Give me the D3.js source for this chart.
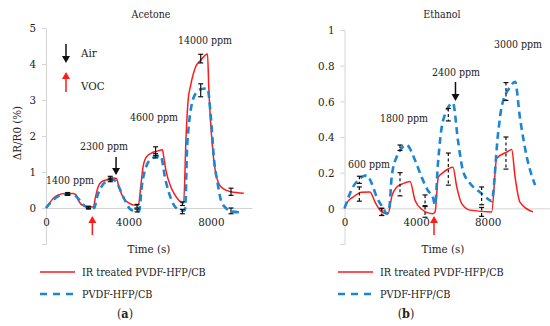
<!DOCTYPE html>
<html><head><meta charset="utf-8">
<script src="https://cdn.jsdelivr.net/npm/d3@7"></script>
<style>
body{margin:0;background:#fff;}
svg text{fill:#222;}
</style></head>
<body><svg id="c" width="550" height="326"></svg>
<script>
// ---------- DATA ----------
const seriesNames = ["IR treated PVDF-HFP/CB", "PVDF-HFP/CB"];
const panelTitles = ["Acetone", "Ethanol"];
const panelLabels = ["a", "b"];
const xTicks = [0, 4000, 8000];
const yTicksA = [-1, 0, 1, 2, 3, 4, 5];
const yTicksB = [-0.2, 0, 0.2, 0.4, 0.6, 0.8, 1];

// Acetone curves [time s, ΔR/R0 %]
const acetoneIR = [[0,0],[150,0.12],[360,0.27],[600,0.36],[900,0.4],[1300,0.4],[1450,0.37],[1580,0.2],[1820,0.06],[2060,0.03],[2300,0.03],
 [2400,0.3],[2550,0.62],[2700,0.73],[3000,0.79],[3300,0.83],[3420,0.82],[3530,0.6],[3770,0.27],[4010,0.14],[4260,0.08],[4480,0.07],
 [4600,0.6],[4700,1.1],[4850,1.4],[5100,1.52],[5400,1.58],[5650,1.62],[5720,1.4],[5820,1.05],[6050,0.6],[6200,0.42],[6540,0.17],[6680,0.13],
 [6800,2.0],[6900,3.0],[7020,3.4],[7270,3.93],[7500,4.1],[7840,4.28],[7900,3.37],[8080,1.7],[8240,0.97],[8490,0.59],[8980,0.45],[9600,0.41]];
const acetonePlain = [[0,0],[400,0.25],[900,0.38],[1300,0.38],[1600,0.24],[1900,0.05],[2100,0.0],[2350,0.0],
 [2450,0.25],[2700,0.6],[3000,0.75],[3300,0.78],[3450,0.68],[3800,0.25],[4100,-0.04],[4400,-0.1],[4520,-0.08],
 [4650,0.6],[4900,1.2],[5200,1.4],[5560,1.45],[5800,0.78],[5970,0.42],[6210,0.08],[6450,-0.05],[6650,-0.08],[6750,-0.04],
 [6860,1.8],[7190,3.1],[7510,3.3],[7840,3.32],[8000,2.54],[8160,1.33],[8330,0.69],[8490,0.22],[8730,0.0],[9060,-0.1],[9460,-0.12]];
// Ethanol curves
const ethanolIR = [[0,0],[200,0.04],[475,0.063],[960,0.09],[1425,0.092],[1700,0.036],[1980,-0.01],[2360,-0.03],
 [2430,-0.03],[2650,0.07],[2920,0.12],[3300,0.14],[3660,0.15],[3940,0.045],[4310,-0.005],[4940,-0.03],
 [5060,-0.02],[5240,0.175],[5500,0.2],[6060,0.23],[6270,0.12],[6550,0.026],[7010,-0.01],[8220,-0.02],
 [8500,0.28],[9060,0.315],[9340,0.33],[9530,0.175],[9800,0.035],[10530,-0.02]];
const ethanolPlain = [[0,0],[475,0.12],[750,0.157],[1240,0.185],[1520,0.14],[1800,0.063],[2170,0.0],[2360,-0.03],[2500,0.0],
 [2640,0.18],[2920,0.29],[3470,0.355],[3940,0.27],[4310,0.175],[4660,0.1],[4940,0.06],[5060,0.02],
 [5220,0.25],[5500,0.49],[6060,0.59],[6340,0.38],[6620,0.21],[7010,0.14],[7570,0.09],[8130,0.045],[8220,0.04],
 [8580,0.42],[8780,0.57],[9250,0.68],[9530,0.71],[9800,0.51],[10180,0.29],[10650,0.13]];

// Error bars: times, means, half-widths
const acetoneErrT = [1050, 2060, 3120, 4420, 5320, 6620, 7510, 8980];
const acetoneIRMean = [0.4, 0.02, 0.83, 0.05, 1.58, 0.12, 4.15, 0.45];
const acetoneIRErr  = [0.03, 0.03, 0.05, 0.05, 0.12, 0.05, 0.12, 0.1];
const acetonePlainMean = [0.38, 0.0, 0.78, -0.07, 1.45, -0.1, 3.27, -0.08];
const acetonePlainErr  = [0.03, 0.03, 0.05, 0.04, 0.06, 0.06, 0.18, 0.08];
const ethanolErrT = [830, 2080, 3100, 4500, 5800, 7660, 9020];
const ethanolIRMean = [0.08, -0.02, 0.135, -0.02, 0.22, -0.02, 0.31];
const ethanolIRErr  = [0.04, 0.02, 0.065, 0.03, 0.09, 0.025, 0.09];
const ethanolPlainMean = [0.16, -0.02, 0.34, 0.045, 0.525, 0.07, 0.655];
const ethanolPlainErr  = [0.02, 0.02, 0.015, 0.03, 0.035, 0.05, 0.05];

// Concentration annotations
const acetoneConc = ["1400 ppm", "2300 ppm", "4600 ppm", "14000 ppm"];
const ethanolConc = ["600 ppm", "1800 ppm", "2400 ppm", "3000 ppm"];

// ---------- DRAW ----------
const FONT = "'DejaVu Serif Condensed', 'DejaVu Serif', serif";
const svg = d3.select("#c");
const RED = "#ff1a1a", BLUE = "#1b86d6", AX = "#d4d4d4";
const FS = 10.8;

const panels = [
 {x0:46, x1:252, xmax:10000, ytop:28, ybot:244, ydom:[-1,5], yt:yTicksA, yfmt:d=>String(d),
  ir:acetoneIR, plain:acetonePlain, eT:acetoneErrT, irM:acetoneIRMean, irE:acetoneIRErr, plM:acetonePlainMean, plE:acetonePlainErr, dashErr:false},
 {x0:344.5, x1:559.3, xmax:12000, ytop:30, ybot:244, ydom:[-0.2,1], yt:yTicksB, yfmt:d=>String(+d.toFixed(1)),
  ir:ethanolIR, plain:ethanolPlain, eT:ethanolErrT, irM:ethanolIRMean, irE:ethanolIRErr, plM:ethanolPlainMean, plE:ethanolPlainErr, dashErr:true}
];

function T(sel){ return sel.style("font-family",FONT).style("font-stretch","condensed"); }

panels.forEach((p,i)=>{
  const x = d3.scaleLinear().domain([0,p.xmax]).range([p.x0,p.x1]);
  const y = d3.scaleLinear().domain(p.ydom).range([p.ybot,p.ytop]);
  p.x=x; p.y=y;
  const g = svg.append("g");
  const ya = g.append("g").attr("transform",`translate(${p.x0},0)`)
    .call(d3.axisLeft(y).tickValues(p.yt).tickSize(4).tickPadding(6).tickFormat(d=> (d<0)?"":p.yfmt(d)));
  ya.select(".domain").attr("stroke",AX);
  ya.selectAll(".tick line").attr("stroke",AX);
  T(ya.selectAll("text")).style("font-size","11.5px").attr("fill","#222");
  const xa = g.append("g").attr("transform",`translate(0,${y(0)})`)
    .call(d3.axisBottom(x).tickValues(xTicks).tickSize(0).tickPadding(10).tickFormat(d3.format("d")));
  xa.select(".domain").attr("stroke",AX);
  T(xa.selectAll("text")).style("font-size","11.5px").attr("fill","#222");
  T(g.append("text")).attr("x",(p.x0+p.x1)/2 + (i===0?2:-10)).attr("y",18).attr("text-anchor","middle").style("font-size","10.5px").text(panelTitles[i]);
  T(g.append("text")).attr("x",(p.x0+ (i===0?p.x1:x(11000)))/2).attr("y",253).attr("text-anchor","middle").style("font-size","11.5px").text("Time (s)");

  const line = d3.line().x(d=>x(d[0])).y(d=>y(d[1])).curve(d3.curveMonotoneX);
  g.append("path").datum(p.ir).attr("d",line).attr("fill","none").attr("stroke",RED).attr("stroke-width",1.5);
  g.append("path").datum(p.plain).attr("d",line).attr("fill","none").attr("stroke",BLUE).attr("stroke-width",2.6).attr("stroke-dasharray","7,4.5");

  const eb = (Tm,M,E,dash)=>{
    Tm.forEach((t,k)=>{
      const cx = x(t), ya1 = y(M[k]+E[k]), ya2 = y(M[k]-E[k]);
      const eg = g.append("g").attr("stroke","#111").attr("stroke-width",1.2);
      eg.append("line").attr("x1",cx).attr("x2",cx).attr("y1",ya1).attr("y2",ya2).attr("stroke-dasharray",dash?"3,2.5":null);
      eg.append("line").attr("x1",cx-2.5).attr("x2",cx+2.5).attr("y1",ya1).attr("y2",ya1);
      eg.append("line").attr("x1",cx-2.5).attr("x2",cx+2.5).attr("y1",ya2).attr("y2",ya2);
    });
  };
  eb(p.eT,p.irM,p.irE,p.dashErr);
  eb(p.eT,p.plM,p.plE,p.dashErr);

  const lx = i===0?40:338;
  g.append("line").attr("x1",lx).attr("x2",lx+35).attr("y1",272).attr("y2",272).attr("stroke",RED).attr("stroke-width",1.6);
  T(g.append("text")).attr("x",lx+42).attr("y",276).style("font-size",FS+"px").text(seriesNames[0]);
  g.append("line").attr("x1",lx).attr("x2",lx+35).attr("y1",294).attr("y2",294).attr("stroke",BLUE).attr("stroke-width",2.6).attr("stroke-dasharray","7,6");
  T(g.append("text")).attr("x",lx+42).attr("y",298).style("font-size",FS+"px").text(seriesNames[1]);
  const lab = T(g.append("text")).attr("x",i===0?125:406).attr("y",318).attr("text-anchor","middle").style("font-size","12.5px");
  lab.append("tspan").text("(");
  lab.append("tspan").attr("font-weight","bold").text(panelLabels[i]);
  lab.append("tspan").text(")");
});

function arrow(xp, yTail, yTip, color){
  const dir = yTip>yTail?1:-1;
  svg.append("line").attr("x1",xp).attr("x2",xp).attr("y1",yTail).attr("y2",yTip-dir*6).attr("stroke",color).attr("stroke-width",1.5);
  svg.append("path").attr("d",`M${xp-4},${yTip-dir*7}L${xp+4},${yTip-dir*7}L${xp},${yTip}Z`).attr("fill",color);
}

T(svg.append("text")).attr("transform","translate(21,133) rotate(-90)").attr("text-anchor","middle").style("font-size","11.5px").text("ΔR/R0 (%)");

const pa = panels[0], pb = panels[1];
arrow(66,44,63,"#111"); T(svg.append("text")).attr("x",81).attr("y",57).style("font-size","11.5px").text("Air");
arrow(66,92,72,RED); T(svg.append("text")).attr("x",81).attr("y",90).style("font-size","11.5px").text("VOC");
const aPos = [[70,184],[104,150],[154,121],[205,44]];
acetoneConc.forEach((s,k)=>T(svg.append("text")).attr("x",aPos[k][0]).attr("y",aPos[k][1]).attr("text-anchor","middle").style("font-size","10.5px").text(s));
arrow(pa.x(3400),157,175,"#111");
arrow(pa.x(2250),235,216,RED);

const bPos = [[369,168],[404,122],[456,76],[518,48]];
ethanolConc.forEach((s,k)=>T(svg.append("text")).attr("x",bPos[k][0]).attr("y",bPos[k][1]).attr("text-anchor","middle").style("font-size","10.5px").text(s));
arrow(pb.x(6200),82,101,"#111");
arrow(pb.x(5000),235,216,RED);
</script></body></html>
